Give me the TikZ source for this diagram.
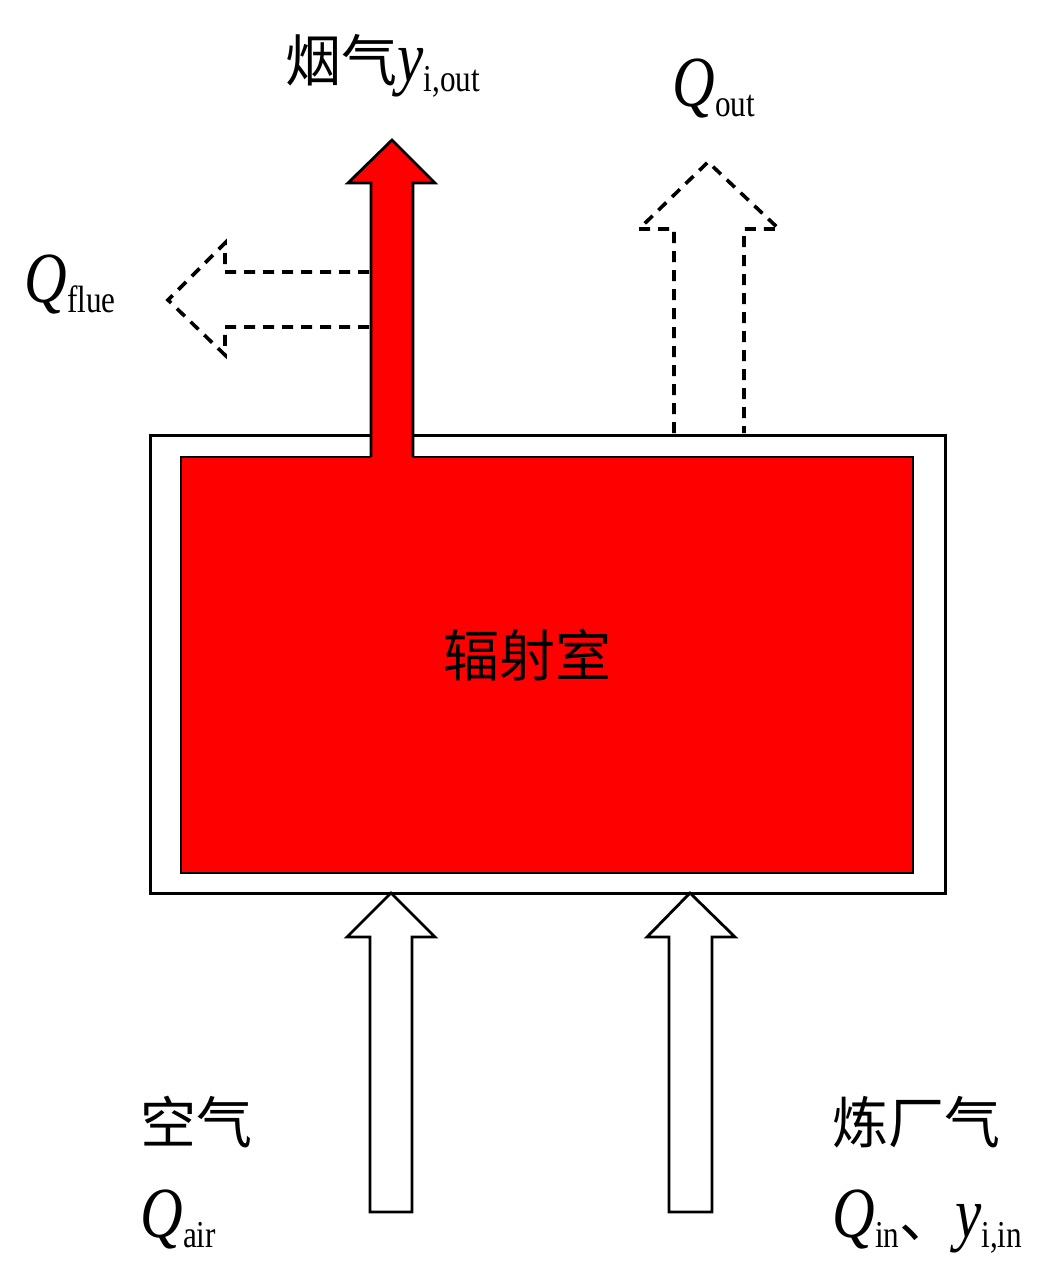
\documentclass[tikz,border=0pt]{standalone}
\usepackage{fontspec}
\setmainfont{Liberation Serif}
\newfontfamily\cjk{Noto Sans CJK SC}
\usetikzlibrary{positioning}
\newcommand{\zh}[1]{{\cjk\fontsize{28pt}{34pt}\selectfont #1}}
\newcommand{\flowvar}[2]{\scalebox{0.82}[1]{\textit{#1}\raisebox{-5pt}{\fontsize{19pt}{22pt}\selectfont #2}}}

\begin{document}
\begin{tikzpicture}[x=0.5pt, y=-0.5pt, line join=miter,
    wall/.style={draw, line width=1.5pt, fill=white},
    hot/.style={draw, line width=1.4pt, fill=red},
    feed/.style={draw, line width=1.4pt, fill=white},
    heat/.style={draw, line width=1.8pt, dash pattern=on 5.5pt off 4pt},
    lbl/.style={inner sep=0pt, font=\fontsize{36pt}{40pt}\selectfont}]
    \useasboundingbox (0,0) rectangle (1058,1273);

    \draw[wall] (150,435) rectangle (945,893);
    \draw[hot] (181,457) rectangle (913,873);
    \fill[red] (371,461) -- (371,183) -- (348,183) -- (392,140) -- (435,183)
        -- (413,183) -- (413,461) -- cycle;
    \draw[line width=1.4pt] (371,457) -- (371,183) -- (348,183) -- (392,140)
        -- (435,183) -- (413,183) -- (413,457);

    \draw[heat] (369,272) -- (225,272) -- (225,243) -- (168,300) -- (225,355)
        -- (225,327) -- (369,327);
    \draw[heat] (674,433) -- (674,229) -- (639,229) -- (708,162) -- (779,229)
        -- (744,229) -- (744,433);

    \draw[feed] (370,1212) -- (370,937) -- (347,937) -- (391,893) -- (435,937)
        -- (412,937) -- (412,1212) -- cycle;
    \draw[feed] (669,1212) -- (669,937) -- (647,937) -- (690,893) -- (735,937)
        -- (712,937) -- (712,1212) -- cycle;

    \node[lbl, anchor=base west] (fluegas) at (285,82) {\zh{烟气}\flowvar{y}{i,out}};
    \node[lbl, anchor=base west] (qout) at (672,107) {\flowvar{Q}{out}};
    \node[lbl, anchor=base west] (qflue) at (24,302) {\flowvar{Q}{flue}};
    \node[lbl, anchor=base] (chamber) at (527,676) {\zh{辐射室}};
    \node[lbl, anchor=base west] (air) at (140,1143) {\zh{空气}};
    \node[lbl, anchor=base west] (qair) at (140,1237) {\flowvar{Q}{air}};
    \node[lbl, anchor=base west] (fuel) at (832,1143) {\zh{炼厂气}};
    \node[lbl, anchor=base west] (qin) at (832,1237) {\flowvar{Q}{in}\zh{、}\flowvar{y}{i,in}};
\end{tikzpicture}
\end{document}
